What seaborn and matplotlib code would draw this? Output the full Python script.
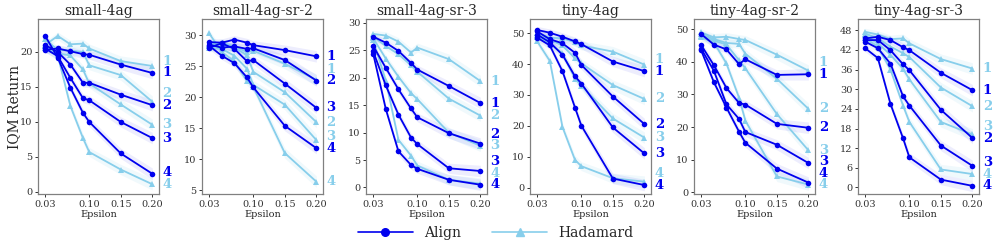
import numpy as np
import pandas as pd
import seaborn as sns
import matplotlib.pyplot as plt
from matplotlib.lines import Line2D

# epsilon grid shared by all panels
eps = [0.03, 0.05, 0.07, 0.09, 0.10, 0.15, 0.20]
panels = ["small-4ag", "small-4ag-sr-2", "small-4ag-sr-3",
          "tiny-4ag", "tiny-4ag-sr-2", "tiny-4ag-sr-3"]

# IQM return, lines 1..4 per panel
align = {
    "small-4ag": [
        [20.3, 20.5, 20.1, 19.7, 19.6, 18.2, 17.0],
        [21.0, 20.0, 18.2, 15.6, 15.6, 13.9, 12.4],
        [20.5, 19.4, 16.3, 13.4, 13.1, 10.0, 7.7],
        [22.3, 19.2, 14.9, 11.3, 10.0, 5.5, 2.6],
    ],
    "small-4ag-sr-2": [
        [28.9, 28.8, 29.3, 28.8, 28.4, 27.6, 26.6],
        [28.5, 28.0, 28.2, 27.8, 27.9, 26.0, 22.7],
        [28.0, 28.7, 27.8, 25.8, 26.0, 22.2, 18.3],
        [28.3, 26.7, 25.5, 23.2, 21.6, 15.4, 11.8],
    ],
    "small-4ag-sr-3": [
        [27.5, 26.4, 24.9, 22.7, 21.5, 18.5, 15.4],
        [25.8, 21.8, 17.9, 14.4, 12.8, 9.9, 8.0],
        [24.8, 18.6, 13.3, 9.1, 7.9, 3.5, 3.0],
        [24.4, 14.3, 6.6, 4.1, 3.4, 1.4, 0.5],
    ],
    "tiny-4ag": [
        [51.0, 50.1, 48.8, 47.3, 46.4, 40.8, 37.7],
        [50.5, 48.0, 46.7, 43.6, 39.7, 29.5, 20.6],
        [49.5, 47.0, 43.0, 36.0, 33.7, 19.5, 11.1],
        [48.5, 46.0, 37.7, 25.9, 20.1, 3.0, 0.9],
    ],
    "tiny-4ag-sr-2": [
        [48.5, 45.3, 43.8, 39.3, 40.8, 36.0, 36.2],
        [45.1, 39.0, 32.0, 27.4, 26.9, 21.0, 19.8],
        [44.0, 37.3, 27.0, 22.5, 18.5, 14.6, 9.0],
        [43.5, 33.8, 26.0, 18.6, 15.2, 7.3, 3.0],
    ],
    "tiny-4ag-sr-3": [
        [45.5, 46.0, 45.0, 42.8, 41.9, 35.0, 29.7],
        [45.0, 45.0, 41.9, 37.6, 35.8, 23.7, 15.1],
        [44.5, 42.5, 37.8, 27.8, 25.0, 12.8, 6.6],
        [42.5, 39.5, 25.5, 15.0, 9.2, 2.4, 0.5],
    ],
}

hadamard = {
    "small-4ag": [
        [21.0, 22.3, 21.1, 21.2, 20.5, 18.7, 18.0],
        [21.8, 20.3, 20.2, 20.0, 18.1, 16.7, 12.9],
        [20.8, 19.8, 19.5, 17.5, 15.5, 12.5, 9.6],
        [20.5, 19.5, 12.3, 7.7, 5.7, 3.2, 1.1],
    ],
    "small-4ag-sr-2": [
        [28.5, 28.8, 28.2, 27.3, 27.5, 25.4, 22.8],
        [28.3, 28.4, 28.0, 26.8, 24.1, 20.8, 16.0],
        [28.0, 27.8, 26.7, 24.6, 22.0, 18.8, 13.1],
        [30.3, 27.3, 25.8, 22.6, 21.7, 11.0, 6.4],
    ],
    "small-4ag-sr-3": [
        [28.0, 27.7, 26.6, 24.6, 25.5, 23.4, 19.4],
        [27.5, 25.8, 24.3, 22.3, 21.1, 16.2, 13.1],
        [27.2, 23.5, 20.2, 17.2, 16.1, 10.0, 7.6],
        [26.8, 19.5, 8.7, 5.8, 4.0, 1.4, 0.7],
    ],
    "tiny-4ag": [
        [50.0, 48.5, 48.3, 47.0, 46.0, 44.0, 39.8],
        [49.5, 47.8, 46.0, 41.8, 40.2, 33.2, 28.7],
        [48.8, 46.5, 43.5, 35.3, 33.0, 22.4, 16.2],
        [47.3, 41.0, 19.7, 9.0, 7.0, 3.1, 2.0],
    ],
    "tiny-4ag-sr-2": [
        [49.0, 47.5, 47.7, 47.0, 46.7, 42.2, 37.3],
        [48.5, 47.0, 45.8, 45.5, 42.5, 34.8, 25.6],
        [48.0, 46.5, 45.3, 40.5, 38.0, 24.0, 12.9],
        [47.5, 46.0, 39.5, 29.0, 22.0, 4.9, 2.4],
    ],
    "tiny-4ag-sr-3": [
        [47.5, 46.7, 45.3, 45.5, 44.0, 39.2, 36.3],
        [47.0, 45.5, 43.0, 41.0, 39.8, 30.5, 24.8],
        [46.5, 44.0, 40.5, 36.2, 33.0, 20.0, 16.2],
        [45.5, 43.0, 36.0, 25.0, 20.0, 5.5, 4.1],
    ],
}

ylims = {
    "small-4ag": (-0.3, 24.7),
    "small-4ag-sr-2": (4.4, 32.6),
    "small-4ag-sr-3": (-1.2, 30.7),
    "tiny-4ag": (-2.0, 54.5),
    "tiny-4ag-sr-2": (-0.5, 53.1),
    "tiny-4ag-sr-3": (-2.0, 51.4),
}
yticks = {
    "small-4ag": [0, 5, 10, 15, 20],
    "small-4ag-sr-2": [5, 10, 15, 20, 25, 30],
    "small-4ag-sr-3": [0, 5, 10, 15, 20, 25, 30],
    "tiny-4ag": [0, 10, 20, 30, 40, 50],
    "tiny-4ag-sr-2": [0, 10, 20, 30, 40, 50],
    "tiny-4ag-sr-3": [0, 6, 12, 18, 24, 30, 36, 42, 48],
}

ALIGN_C = "#0000ee"
HAD_C = "#87ceeb"

# long table for seaborn
rows = []
for p in panels:
    for method, src in (("Hadamard", hadamard), ("Align", align)):
        for lvl, vals in enumerate(src[p], start=1):
            for e, v in zip(eps, vals):
                rows.append({"panel": p, "method": method, "level": lvl,
                             "eps": e, "ret": v})
df = pd.DataFrame(rows)

sns.set_theme(style="white")
plt.rcParams["font.family"] = ["DejaVu Serif"]
plt.rcParams["axes.edgecolor"] = "#808080"
plt.rcParams["xtick.color"] = "#333333"
plt.rcParams["ytick.color"] = "#333333"

fig, axes = plt.subplots(1, 6, figsize=(9.97, 2.45), dpi=100)
fig.subplots_adjust(left=0.038, right=0.982, top=0.922, bottom=0.208, wspace=0.355)

for ax, p in zip(axes, panels):
    sub = df[df.panel == p]
    lo, hi = ylims[p]
    band = 0.03 * (hi - lo)
    for method, col, a in (("Hadamard", HAD_C, 0.12), ("Align", ALIGN_C, 0.07)):
        d = sub[sub.method == method]
        for lvl, g in d.groupby("level"):
            w = band * (0.6 + 2.5 * np.array(g.eps))
            ax.fill_between(g.eps, g.ret - w, g.ret + w, color=col, alpha=a, lw=0)
        sns.lineplot(data=d, x="eps", y="ret", units="level", estimator=None,
                     color=col, marker="o" if method == "Align" else "^",
                     markersize=4 if method == "Align" else 4.5,
                     markeredgewidth=0, linewidth=1.3, ax=ax, legend=False)

    # end labels, pushed apart a little so they don't overlap
    ends = []
    for lvl in range(4):
        ends.append((hadamard[p][lvl][-1], str(lvl + 1), HAD_C))
        ends.append((align[p][lvl][-1], str(lvl + 1), ALIGN_C))
    ends.sort(key=lambda t: t[0])
    gap = 0.065 * (hi - lo)
    ys = [t[0] for t in ends]
    for i in range(1, len(ys)):
        if ys[i] - ys[i - 1] < gap:
            ys[i] = ys[i - 1] + gap
    shift = max(0, ys[-1] - (hi - 0.02 * (hi - lo)))
    ys = [y - shift * (i / (len(ys) - 1)) for i, y in enumerate(ys)]
    for (v, txt, col), y in zip(ends, ys):
        ax.text(1.03, y, txt, transform=ax.get_yaxis_transform(), color=col,
                fontsize=9.5, fontweight="bold", va="center", ha="left",
                clip_on=False)

    ax.set_xlim(0.0185, 0.2105)
    ax.set_ylim(lo, hi)
    ax.set_xticks([0.03, 0.10, 0.15, 0.20])
    ax.set_xticklabels(["0.03", "0.10", "0.15", "0.20"])
    ax.set_yticks(yticks[p])
    ax.tick_params(axis="both", labelsize=7, length=2.5, width=0.7,
                   bottom=True, left=True, pad=1.5)
    ax.set_title(p, fontsize=10, pad=3)
    ax.set_xlabel("Epsilon", fontsize=7, labelpad=1)
    ax.set_ylabel("")
    for s in ax.spines.values():
        s.set_linewidth(0.9)

axes[0].set_ylabel("IQM Return", fontsize=10)
axes[0].yaxis.set_label_coords(-0.14, 0.5)

handles = [
    Line2D([], [], color=ALIGN_C, marker="o", markersize=5.5, linewidth=1.2),
    Line2D([], [], color=HAD_C, marker="^", markersize=6, linewidth=1.2),
]
fig.legend(handles, ["Align", "Hadamard"], loc="center",
           bbox_to_anchor=(0.497, 0.05), ncol=2, frameon=False, fontsize=10,
           handlelength=4, columnspacing=2.2)

fig.savefig("out.png", dpi=100)
